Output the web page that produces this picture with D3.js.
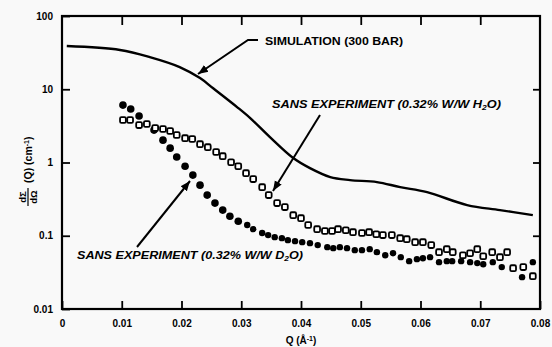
<!DOCTYPE html>
<html>
<head>
<meta charset="utf-8">
<script src="https://cdn.jsdelivr.net/npm/d3@7"></script>
<style>
  body { margin: 0; background: #f9f9f9; }
  svg { display: block; }
  text { font-family: "Liberation Sans", Arial, sans-serif; font-weight: bold; fill: #000; }
</style>
</head>
<body>
<div id="chart"></div>
<script>
// SVG wrapper dimensions
var svgWidth = 552;
var svgHeight = 347;

// plot frame
var frame = { left: 62, right: 540, top: 16, bottom: 309 };

// data
var simQ = [0.0008, 0.0097, 0.0147, 0.0197, 0.0231, 0.0253, 0.0293, 0.0315, 0.0348, 0.0387, 0.0415, 0.0449, 0.0482, 0.0527, 0.0566, 0.0611, 0.0678, 0.0733, 0.0788];
var simI = [38.9, 34.4, 27.5, 20.1, 14.2, 10.3, 5.71, 4.04, 2.22, 1.15, 0.837, 0.632, 0.575, 0.540, 0.461, 0.394, 0.262, 0.224, 0.191];

var h2oQ = [0.0102, 0.0114, 0.0129, 0.0142, 0.0156, 0.0169, 0.0181, 0.0192, 0.0206, 0.0218, 0.0231, 0.0244, 0.0258, 0.0269, 0.0283, 0.0295, 0.0308, 0.0320, 0.0335, 0.0346, 0.0360, 0.0373, 0.0387, 0.0400, 0.0412, 0.0427, 0.0440, 0.0452, 0.0462, 0.0475, 0.0487, 0.0502, 0.0514, 0.0526, 0.0537, 0.0552, 0.0566, 0.0577, 0.0591, 0.0604, 0.0618, 0.0631, 0.0644, 0.0654, 0.0671, 0.0683, 0.0695, 0.0705, 0.0720, 0.0733, 0.0745, 0.0755, 0.0772, 0.0788];
var h2oI = [3.80, 3.80, 3.24, 3.35, 2.95, 2.86, 2.69, 2.37, 2.15, 2.09, 1.78, 1.62, 1.39, 1.22, 1.01, 0.89, 0.716, 0.593, 0.461, 0.359, 0.279, 0.246, 0.191, 0.174, 0.140, 0.123, 0.116, 0.116, 0.123, 0.119, 0.112, 0.109, 0.112, 0.105, 0.102, 0.102, 0.0927, 0.0899, 0.0818, 0.0818, 0.0745, 0.0597, 0.0656, 0.0597, 0.0543, 0.0578, 0.0656, 0.0526, 0.0597, 0.0510, 0.0597, 0.0361, 0.0373, 0.0281];

var d2oQ = [0.0102, 0.0115, 0.0129, 0.0154, 0.0169, 0.0181, 0.0192, 0.0206, 0.0219, 0.0231, 0.0243, 0.0256, 0.0269, 0.0281, 0.0295, 0.0310, 0.0320, 0.0335, 0.0345, 0.0356, 0.0368, 0.0378, 0.0390, 0.0402, 0.0415, 0.0428, 0.0444, 0.0454, 0.0465, 0.0477, 0.0490, 0.0502, 0.0515, 0.0527, 0.0541, 0.0554, 0.0567, 0.0581, 0.0594, 0.0604, 0.0616, 0.0631, 0.0644, 0.0653, 0.0668, 0.0683, 0.0695, 0.0705, 0.0721, 0.0736, 0.0770, 0.0788];
var d2oI = [6.08, 5.37, 4.31, 2.77, 2.02, 1.57, 1.19, 0.89, 0.673, 0.491, 0.359, 0.279, 0.224, 0.185, 0.158, 0.140, 0.123, 0.109, 0.102, 0.0957, 0.0927, 0.0871, 0.0844, 0.0818, 0.0792, 0.0745, 0.0699, 0.0677, 0.0699, 0.0677, 0.0636, 0.0636, 0.0656, 0.0597, 0.0543, 0.0578, 0.0510, 0.0450, 0.0479, 0.0494, 0.0510, 0.0436, 0.0450, 0.0450, 0.0450, 0.0436, 0.0423, 0.0409, 0.0436, 0.0373, 0.0272, 0.0436];

// ticks
var xTicks = [0, 0.01, 0.02, 0.03, 0.04, 0.05, 0.06, 0.07, 0.08];
var xTickLabels = ["0", "0.01", "0.02", "0.03", "0.04", "0.05", "0.06", "0.07", "0.08"];
var yTicks = [0.01, 0.1, 1, 10, 100];
var yTickLabels = ["0.01", "0.1", "1", "10", "100"];

var svg = d3.select("#chart")
  .append("svg")
  .attr("width", svgWidth)
  .attr("height", svgHeight);

var xScale = d3.scaleLinear()
  .domain([0, 0.08])
  .range([frame.left, frame.right]);

var yScale = d3.scaleLog()
  .domain([0.01, 100])
  .range([frame.bottom, frame.top]);

// axes (ticks point inward)
var bottomAxis = d3.axisBottom(xScale)
  .tickValues(xTicks)
  .tickFormat((d, i) => xTickLabels[i])
  .tickSizeInner(-8).tickSizeOuter(0).tickPadding(11);
var topAxis = d3.axisTop(xScale)
  .tickValues(xTicks.slice(1, -1))
  .tickFormat("")
  .tickSizeInner(-9).tickSizeOuter(0);
var leftAxis = d3.axisLeft(yScale)
  .tickValues(yTicks)
  .tickFormat((d, i) => yTickLabels[i])
  .tickSizeInner(-8).tickSizeOuter(0).tickPadding(9);
var rightAxis = d3.axisRight(yScale)
  .tickValues(yTicks.slice(1, -1))
  .tickFormat("")
  .tickSizeInner(-7).tickSizeOuter(0);

function styleAxis(g) {
  g.select(".domain").remove();
  g.selectAll(".tick line").attr("stroke", "#000").attr("stroke-width", 1.8);
  g.selectAll(".tick text").attr("font-size", 10).attr("fill", "#000");
}

svg.append("g").attr("transform", `translate(0, ${frame.bottom})`).call(bottomAxis).call(styleAxis);
svg.append("g").attr("transform", `translate(0, ${frame.top})`).call(topAxis).call(styleAxis);
svg.append("g").attr("transform", `translate(${frame.left}, 0)`).call(leftAxis).call(styleAxis);
svg.append("g").attr("transform", `translate(${frame.right}, 0)`).call(rightAxis).call(styleAxis);

// frame
svg.append("rect")
  .attr("x", frame.left)
  .attr("y", frame.top)
  .attr("width", frame.right - frame.left)
  .attr("height", frame.bottom - frame.top)
  .attr("fill", "none")
  .attr("stroke", "#000")
  .attr("stroke-width", 2.2);

// simulation curve
var simData = simQ.map((q, i) => ({ q: q, v: simI[i] }));
var line = d3.line()
  .x(d => xScale(d.q))
  .y(d => yScale(d.v))
  .curve(d3.curveCatmullRom.alpha(0.5));

svg.append("path")
  .datum(simData)
  .attr("d", line)
  .attr("fill", "none")
  .attr("stroke", "#000")
  .attr("stroke-width", 2.4);

// D2O: filled markers
svg.append("g").selectAll("circle")
  .data(d2oQ.map((q, i) => ({ q: q, v: d2oI[i] })))
  .enter()
  .append("circle")
  .attr("cx", d => xScale(d.q))
  .attr("cy", d => yScale(d.v))
  .attr("r", d => d.q < 0.03 ? 3.8 : 3.2)
  .attr("fill", "#000");

// H2O: open squares
svg.append("g").selectAll("rect")
  .data(h2oQ.map((q, i) => ({ q: q, v: h2oI[i] })))
  .enter()
  .append("rect")
  .attr("x", d => xScale(d.q) - 2.9)
  .attr("y", d => yScale(d.v) - 2.9)
  .attr("width", 5.8)
  .attr("height", 5.8)
  .attr("rx", 1.4)
  .attr("fill", "#fff")
  .attr("stroke", "#000")
  .attr("stroke-width", 1.8);

// arrow head marker
svg.append("defs").append("marker")
  .attr("id", "arrow")
  .attr("viewBox", "0 0 10 10")
  .attr("refX", 10).attr("refY", 5)
  .attr("markerWidth", 5).attr("markerHeight", 5)
  .attr("orient", "auto")
  .append("path")
  .attr("d", "M0,1 L10,5 L0,9 Z")
  .attr("fill", "#000");

function arrow(points) {
  svg.append("path")
    .attr("d", d3.line()(points))
    .attr("fill", "none")
    .attr("stroke", "#000")
    .attr("stroke-width", 2)
    .attr("marker-end", "url(#arrow)");
}

// annotations
arrow([[258, 40], [248, 40], [198, 74]]);
svg.append("text")
  .attr("x", 265).attr("y", 45)
  .attr("font-size", 10.5)
  .attr("textLength", 138).attr("lengthAdjust", "spacingAndGlyphs")
  .text("SIMULATION (300 BAR)");

arrow([[320, 115], [273, 191]]);
var h2oText = svg.append("text")
  .attr("x", 272).attr("y", 108)
  .attr("font-size", 10.5)
  .attr("font-style", "italic")
  .attr("textLength", 229).attr("lengthAdjust", "spacingAndGlyphs");
h2oText.append("tspan").text("SANS EXPERIMENT (0.32% W/W H");
h2oText.append("tspan").attr("font-size", 7).attr("dy", 2).text("2");
h2oText.append("tspan").attr("dy", -2).text("O)");

arrow([[137, 247], [190, 181]]);
var d2oText = svg.append("text")
  .attr("x", 77).attr("y", 259)
  .attr("font-size", 10.5)
  .attr("font-style", "italic")
  .attr("textLength", 226).attr("lengthAdjust", "spacingAndGlyphs");
d2oText.append("tspan").text("SANS EXPERIMENT (0.32% W/W D");
d2oText.append("tspan").attr("font-size", 7).attr("dy", 2).text("2");
d2oText.append("tspan").attr("dy", -2).text("O)");

// x axis label
var xLabel = svg.append("text")
  .attr("x", 301).attr("y", 344)
  .attr("text-anchor", "middle")
  .attr("font-size", 10);
xLabel.append("tspan").text("Q (Å");
xLabel.append("tspan").attr("font-size", 7).attr("dy", -3).text("-1");
xLabel.append("tspan").attr("dy", 3).text(")");

// y axis label (rotated, with dΣ/dΩ fraction)
var yLabel = svg.append("g")
  .attr("transform", "translate(28, 166) rotate(-90)");
yLabel.append("text")
  .attr("x", -31).attr("y", -2)
  .attr("text-anchor", "middle")
  .attr("font-size", 9.5)
  .text("dΣ");
yLabel.append("line")
  .attr("x1", -40).attr("x2", -22)
  .attr("y1", 0).attr("y2", 0)
  .attr("stroke", "#000").attr("stroke-width", 1.2);
yLabel.append("text")
  .attr("x", -31).attr("y", 9)
  .attr("text-anchor", "middle")
  .attr("font-size", 9.5)
  .text("dΩ");
var yText = yLabel.append("text")
  .attr("x", -17).attr("y", 4)
  .attr("font-size", 10.5);
yText.append("tspan").text("(Q) (cm");
yText.append("tspan").attr("font-size", 7).attr("dy", -3).text("-1");
yText.append("tspan").attr("dy", 3).text(")");
</script>
</body>
</html>
